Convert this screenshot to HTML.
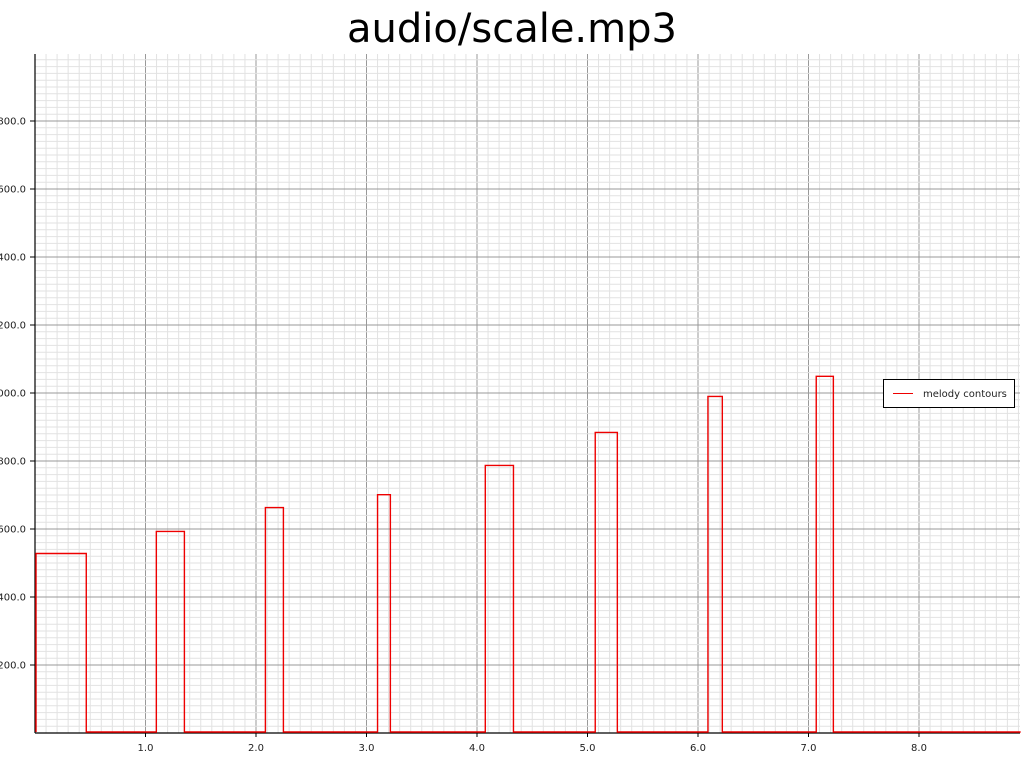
<!DOCTYPE html>
<html><head><meta charset="utf-8"><style>
html,body{margin:0;padding:0;background:#fff;width:1024px;height:768px;overflow:hidden}
svg{display:block;font-family:"DejaVu Sans","Liberation Sans",sans-serif}
</style></head><body>
<svg id="chart" width="1024" height="768" viewBox="0 0 1024 768">
<text x="512" y="42" text-anchor="middle" font-size="40" fill="#000">audio/scale.mp3</text>
<g id="grid"></g>
<g id="axes"></g>
<g id="series"></g>
<g>
<rect x="883.5" y="379.5" width="131" height="28" fill="#fff" stroke="#000" stroke-width="1"/>
<line x1="893" y1="393.5" x2="913" y2="393.5" stroke="#e00" stroke-width="1"/>
<text x="923" y="397" font-size="10" fill="#222">melody contours</text>
</g>
</svg>
<script>
const xTicks = [1,2,3,4,5,6,7,8];
const yTicks = [200,400,600,800,1000,1200,1400,1600,1800];
const segStart = [0, 0.464, 1.098, 1.352, 2.085, 2.248, 3.10, 3.216, 4.075, 4.33, 5.07, 5.27, 6.09, 6.22, 7.07, 7.225];
const segFreq  = [525, 0, 590, 0, 660, 0, 698, 0, 784, 0, 881, 0, 987, 0, 1046, 0];
const xEnd = 8.92;

const L=35, R=1020, T=54, B=733;
const X = v => L + v*110.5;
const Y = v => B - v*0.34;
const NS='http://www.w3.org/2000/svg';
function mk(tag, attrs, parent){const e=document.createElementNS(NS,tag);for(const k in attrs)e.setAttribute(k,attrs[k]);parent.appendChild(e);return e;}
const grid=document.getElementById('grid'), axes=document.getElementById('axes'), series=document.getElementById('series');
for(let i=1;;i++){const x=X(i*0.1);if(x>R)break;const l=mk('line',{x1:x,y1:T,x2:x,y2:B,stroke:i%10?'#e2e2e2':'#999','stroke-width':1},grid);

}
for(let i=1;;i++){const y=Y(i*20);if(y<T)break;const l=mk('line',{x1:L,y1:y,x2:R,y2:y,stroke:i%10?'#e2e2e2':'#999','stroke-width':1},grid);

}
const ax=mk('line',{x1:L,y1:T,x2:L,y2:B,stroke:'#000','stroke-width':1.2},axes);


const bx=mk('line',{x1:L,y1:B,x2:R,y2:B,stroke:'#000','stroke-width':1.2},axes);


yTicks.forEach(v=>{const y=Y(v);mk('line',{x1:L-5,y1:y,x2:L,y2:y,stroke:'#000'},axes);
const t=mk('text',{x:26,y:y+3.5,'text-anchor':'end','font-size':10,fill:'#222'},axes);t.textContent=v.toFixed(1);

});
xTicks.forEach(v=>{const x=X(v);mk('line',{x1:x,y1:B,x2:x,y2:B+4,stroke:'#000'},axes);
const t=mk('text',{x:x,y:751,'text-anchor':'middle','font-size':10,fill:'#222'},axes);t.textContent=v.toFixed(1);

});
const Ys = v => Y(v) - 1;
let d='M'+(X(segStart[0])+1)+','+Ys(0);
segStart.forEach((s,i)=>{const e=i+1<segStart.length?segStart[i+1]:xEnd;const xs=i===0?X(s)+1:X(s);d+=' L'+xs+','+Ys(segFreq[i])+' L'+X(e)+','+Ys(segFreq[i]);});
const p=mk('path',{d:d,fill:'none',stroke:'#e00','stroke-width':1.4},series);


</script>
</body></html>
